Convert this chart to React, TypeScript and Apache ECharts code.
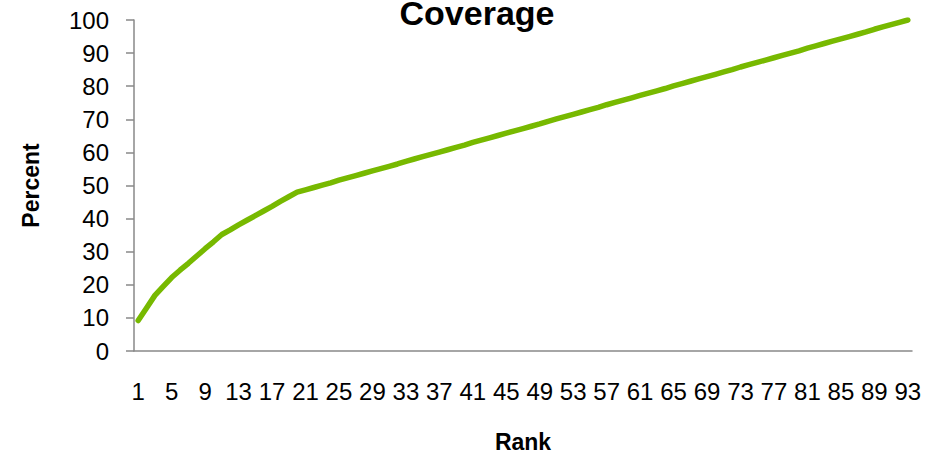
import React, { useEffect, useRef } from "react";
import * as echarts from "echarts";

// Rank positions shown along the x axis
const ranks: string[] = Array.from({ length: 93 }, (_, i) => String(i + 1));

// Cumulative coverage (percent) by rank
const coverage: number[] = [
  9.2, 13.0, 16.8, 19.5, 22.2, 24.4, 26.5, 28.7, 30.9, 33.0,
  35.2, 36.6, 38.1, 39.5, 40.9, 42.3, 43.7, 45.2, 46.6, 48.0,
  48.7, 49.4, 50.1, 50.8, 51.6, 52.3, 53.0, 53.7, 54.4, 55.1,
  55.8, 56.5, 57.3, 58.0, 58.7, 59.4, 60.1, 60.8, 61.5, 62.2,
  63.0, 63.7, 64.4, 65.1, 65.8, 66.5, 67.2, 67.9, 68.6, 69.4,
  70.1, 70.8, 71.5, 72.2, 72.9, 73.6, 74.4, 75.1, 75.8, 76.5,
  77.2, 77.9, 78.6, 79.3, 80.1, 80.8, 81.5, 82.2, 82.9, 83.6,
  84.3, 85.0, 85.8, 86.5, 87.2, 87.9, 88.6, 89.3, 90.0, 90.7,
  91.5, 92.2, 92.9, 93.6, 94.3, 95.0, 95.7, 96.4, 97.2, 97.9,
  98.6, 99.3, 100,
];

const chartTitle = "Coverage";
const xName = "Rank";
const yName = "Percent";

const FONT = "'Liberation Sans', Arial, Helvetica, sans-serif";
const AXIS_GRAY = "#898989";

export default function App() {
  const ref = useRef<HTMLDivElement>(null);

  useEffect(() => {
    if (!ref.current) return;
    const chart = echarts.init(ref.current, undefined, { renderer: "svg" });
    chart.setOption({
      animation: false,
      backgroundColor: "#ffffff",
      textStyle: { fontFamily: FONT },
      grid: { left: 134, right: 24, top: 20, bottom: 105, containLabel: false },
      graphic: [
        {
          type: "text",
          x: 477,
          y: 13,
          style: {
            text: chartTitle,
            fontFamily: FONT,
            fontWeight: "bold",
            fontSize: 34,
            fill: "#000",
            align: "center",
            verticalAlign: "middle",
          },
        },
      ],
      xAxis: {
        type: "category",
        data: ranks,
        boundaryGap: true,
        name: xName,
        nameLocation: "middle",
        nameGap: 79,
        nameTextStyle: { fontFamily: FONT, fontWeight: "bold", fontSize: 23, color: "#000" },
        axisLine: { show: true, lineStyle: { color: AXIS_GRAY, width: 1.5 } },
        axisTick: { show: false },
        axisLabel: {
          interval: 3,
          margin: 28,
          fontFamily: FONT,
          fontSize: 24,
          color: "#000",
        },
        splitLine: { show: false },
      },
      yAxis: {
        type: "value",
        min: 0,
        max: 100,
        interval: 10,
        name: yName,
        nameLocation: "middle",
        nameGap: 92,
        nameTextStyle: { fontFamily: FONT, fontWeight: "bold", fontSize: 23, color: "#000" },
        axisLine: { show: true, lineStyle: { color: AXIS_GRAY, width: 1.5 } },
        axisTick: { show: true, length: 8, lineStyle: { color: AXIS_GRAY, width: 1.5 } },
        axisLabel: {
          margin: 25,
          fontFamily: FONT,
          fontSize: 24,
          color: "#000",
        },
        splitLine: { show: false },
      },
      series: [
        {
          type: "line",
          data: coverage,
          symbol: "none",
          lineStyle: { color: "#77b900", width: 5.5, cap: "round", join: "round" },
        },
      ],
    });
    return () => chart.dispose();
  }, []);

  return (
    <div
      ref={ref}
      style={{ position: "absolute", left: 0, top: 0, width: 936, height: 458 }}
    />
  );
}
